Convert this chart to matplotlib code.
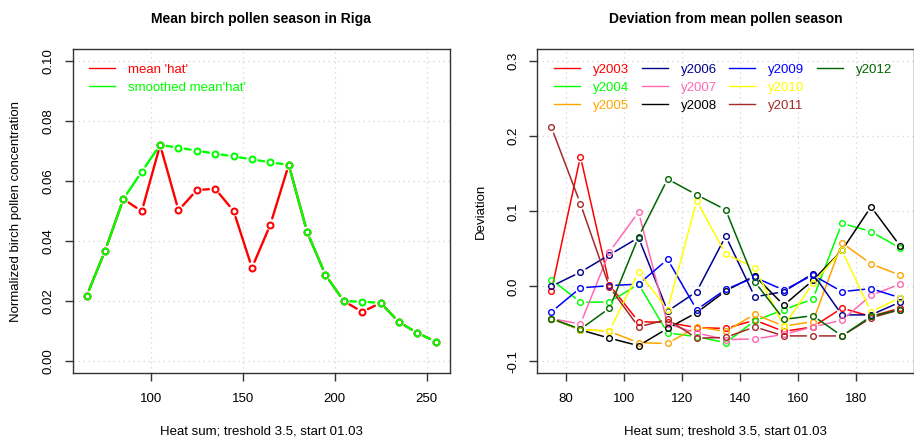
import matplotlib
matplotlib.use("Agg")
import matplotlib.pyplot as plt
from matplotlib.patches import FancyArrowPatch
from matplotlib.lines import Line2D

plt.rcParams['font.family'] = ['Liberation Sans', 'DejaVu Sans']

# ---------------- data ----------------
heat_left = [65, 75, 85, 95, 105, 115, 125, 135, 145, 155, 165, 175, 185, 195, 205, 215, 225, 235, 245, 255]
mean_hat = [0.0218, 0.0368, 0.0541, 0.0500, 0.0721, 0.0503, 0.0571, 0.0575, 0.0501, 0.0312,
            0.0456, 0.0655, 0.0431, 0.0288, 0.0201, 0.0165, 0.0195, 0.0131, 0.0095, 0.0066]
smoothed_hat = [0.0218, 0.0368, 0.0541, 0.0632, 0.0721, 0.0712, 0.0702, 0.0692, 0.0683, 0.0673,
                0.0663, 0.0655, 0.0431, 0.0288, 0.0201, 0.0199, 0.0195, 0.0131, 0.0095, 0.0066]

heat_right = [75, 85, 95, 105, 115, 125, 135, 145, 155, 165, 175, 185, 195]
y2003 = [-0.006, 0.173, 0.002, -0.047, -0.048, -0.055, -0.056, -0.045, -0.060, -0.054, -0.029, -0.040, -0.029]
y2004 = [0.009, -0.021, -0.021, 0.003, -0.062, -0.067, -0.075, -0.046, -0.031, -0.017, 0.084, 0.073, 0.051]
y2005 = [-0.043, -0.057, -0.060, -0.075, -0.076, -0.054, -0.060, -0.037, -0.053, -0.047, 0.058, 0.030, 0.015]
y2006 = [0.000, 0.019, 0.042, 0.065, -0.033, -0.007, 0.067, -0.014, -0.007, 0.017, -0.038, -0.038, -0.021]
y2007 = [-0.043, -0.050, 0.046, 0.099, -0.050, -0.062, -0.071, -0.070, -0.064, -0.054, -0.045, -0.012, 0.003]
y2008 = [-0.043, -0.058, -0.069, -0.079, -0.056, -0.035, -0.006, 0.014, -0.025, 0.008, 0.048, 0.106, 0.054]
y2009 = [-0.034, -0.002, 0.001, 0.003, 0.036, -0.031, -0.004, 0.012, -0.005, 0.015, -0.007, -0.003, -0.015]
y2010 = [-0.043, -0.058, -0.059, 0.019, -0.031, 0.114, 0.043, 0.025, -0.053, 0.004, 0.048, -0.034, -0.015]
y2011 = [0.212, 0.110, -0.001, -0.054, -0.044, -0.069, -0.068, -0.054, -0.066, -0.066, -0.066, -0.042, -0.031]
y2012 = [-0.043, -0.057, -0.029, 0.066, 0.143, 0.122, 0.102, 0.006, -0.044, -0.039, -0.066, -0.040, -0.031]

year_labels = ['y2003', 'y2004', 'y2005', 'y2006', 'y2007', 'y2008', 'y2009', 'y2010', 'y2011', 'y2012']
year_series = [y2003, y2004, y2005, y2006, y2007, y2008, y2009, y2010, y2011, y2012]
year_colors = ['#FF0000', '#00FF00', '#FFA500', '#00008B', '#FF69B4', '#000000', '#0000FF', '#FFFF00', '#A52A2A', '#006400']

left_xticks = [100, 150, 200, 250]
left_yticks = [0.00, 0.02, 0.04, 0.06, 0.08, 0.10]
right_xticks = [80, 100, 120, 140, 160, 180]
right_yticks = [-0.1, 0.0, 0.1, 0.2, 0.3]

# ---------------- helpers ----------------
GAP = 4.6  # points, like R's type="b" gap


def type_b(ax, x, y, color, lw, ms, mew):
    for i in range(len(x) - 1):
        p = FancyArrowPatch((x[i], y[i]), (x[i + 1], y[i + 1]), arrowstyle='-',
                            shrinkA=GAP, shrinkB=GAP, color=color, lw=lw,
                            transform=ax.transData, zorder=3)
        ax.add_patch(p)
    ax.plot(x, y, linestyle='none', marker='o', mfc='none', mec=color,
            ms=ms, mew=mew, zorder=4)


def style_axes(ax, xt, yt, ylabels):
    for s in ax.spines.values():
        s.set_color('#333333')
        s.set_linewidth(1.0)
    ax.set_xticks(xt)
    ax.set_yticks(yt)
    ax.set_yticklabels(ylabels, rotation=90, va='center')
    ax.tick_params(direction='out', length=6, width=1, colors='#333333',
                   labelcolor='black', labelsize=9.5)
    ax.tick_params(axis='x', pad=8)
    ax.tick_params(axis='y', pad=7)
    ax.grid(True, color='#D3D3D3', linestyle=(0, (1, 3)), linewidth=0.9)
    ax.set_axisbelow(True)


fig = plt.figure(figsize=(9.14, 4.43), dpi=100)

# ---------------- left panel ----------------
ax1 = fig.add_axes([0.0795, 0.157, 0.4125, 0.732])
type_b(ax1, heat_left, mean_hat, '#FF0000', 1.7, 4.3, 1.45)
type_b(ax1, heat_left, smoothed_hat, '#00FF00', 1.7, 4.3, 1.45)
ax1.set_xlim(57.4, 262.6)
ax1.set_ylim(-0.004, 0.104)
style_axes(ax1, left_xticks, left_yticks, ['%.2f' % v for v in left_yticks])
ax1.set_title('Mean birch pollen season in Riga', fontsize=10, fontweight='bold', pad=19)
ax1.set_xlabel('Heat sum; treshold 3.5, start 01.03', fontsize=9.5, labelpad=15)
ax1.set_ylabel('Normalized birch pollen concentration', fontsize=9.5, labelpad=15)
h1 = [Line2D([], [], color='#FF0000', lw=1.0), Line2D([], [], color='#00FF00', lw=1.0)]
leg1 = ax1.legend(h1, ["mean 'hat'", "smoothed mean'hat'"], loc='upper left',
                  bbox_to_anchor=(0.02, 0.985), frameon=False,
                  fontsize=9.5, handlelength=1.95, handletextpad=1.0, labelspacing=0.45,
                  borderaxespad=0.3)
for t, c in zip(leg1.get_texts(), ['#FF0000', '#00FF00']):
    t.set_color(c)

# ---------------- right panel ----------------
ax2 = fig.add_axes([0.588, 0.157, 0.412, 0.732])
for ys, col in zip(year_series, year_colors):
    type_b(ax2, heat_right, ys, col, 1.1, 4.1, 1.0)
ax2.set_xlim(70.2, 199.8)
ax2.set_ylim(-0.116, 0.316)
style_axes(ax2, right_xticks, right_yticks, ['%.1f' % v for v in right_yticks])
ax2.set_title('Deviation from mean pollen season', fontsize=10, fontweight='bold', pad=19)
ax2.set_xlabel('Heat sum; treshold 3.5, start 01.03', fontsize=9.5, labelpad=15)
ax2.set_ylabel('Deviation', fontsize=9.5, labelpad=15)
h2 = [Line2D([], [], color=c, lw=1.0) for c in year_colors]
blank = Line2D([], [], color='none')
leg2 = ax2.legend(h2 + [blank, blank], year_labels + ['', ''], loc='upper left',
                  bbox_to_anchor=(0.02, 0.985), frameon=False, ncol=4,
                  fontsize=9.5, handlelength=1.95, handletextpad=1.0, labelspacing=0.45,
                  columnspacing=0.95, borderaxespad=0.3)
for t, c in zip(leg2.get_texts(), year_colors):
    t.set_color(c)

fig.savefig('out.png', dpi=100)
